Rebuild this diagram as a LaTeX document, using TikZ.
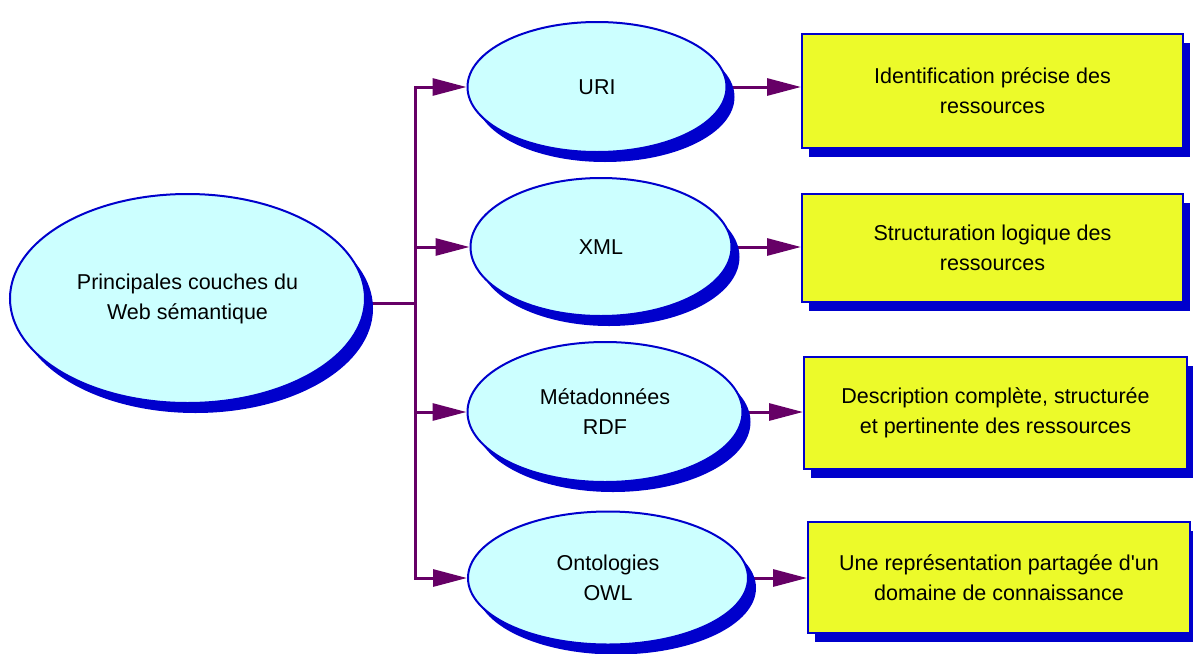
\documentclass[tikz,border=0pt]{standalone}
\usepackage{fontspec}
\setmainfont{Liberation Sans}
\usetikzlibrary{shapes.geometric,shadows,arrows.meta}
\definecolor{cyanfill}{RGB}{204,255,255}
\definecolor{edgeblue}{RGB}{0,0,204}
\definecolor{boxyellow}{RGB}{236,250,42}
\definecolor{linkpurple}{RGB}{102,0,102}
\pgfdeclarelayer{background}
\pgfsetlayers{background,main}
\tikzset{
  layernode/.style={ellipse, draw=edgeblue, line width=2pt, fill=cyanfill, inner sep=0pt,
    align=center, font=\fontsize{21.5}{30}\selectfont,
    drop shadow={fill=edgeblue, opacity=1, shadow xshift=8pt, shadow yshift=-10pt}},
  infobox/.style={rectangle, draw=edgeblue, line width=2pt, fill=boxyellow, inner sep=0pt,
    align=center, font=\fontsize{21.5}{30}\selectfont,
    drop shadow={fill=edgeblue, opacity=1, shadow xshift=7pt, shadow yshift=-9pt}},
  link/.style={draw=linkpurple, line width=3pt, line cap=rect},
  arr/.style={link, -{Triangle[length=34pt,width=17pt]}}
}
\begin{document}
\begin{tikzpicture}[x=1pt,y=-1pt]
\useasboundingbox (0,0) rectangle (1193,653);

\node[layernode, minimum width=355pt, minimum height=209pt] (main) at (187.5,298.5)
  {Principales couches du\\Web sémantique};

\node[layernode, minimum width=259pt, minimum height=130pt] (uri) at (597,87) {URI};
\node[layernode, minimum width=261pt, minimum height=138pt] (xml) at (601,247) {XML};
\node[layernode, minimum width=275pt, minimum height=140pt] (rdf) at (605,412) {Métadonnées\\RDF};
\node[layernode, minimum width=280pt, minimum height=133pt] (owl) at (608,578) {Ontologies\\OWL};

\node[infobox, minimum width=381pt, minimum height=114pt] (b1) at (992.5,91)
  {Identification précise des\\ressources};
\node[infobox, minimum width=381pt, minimum height=108pt] (b2) at (992.5,248)
  {Structuration logique des\\ressources};
\node[infobox, minimum width=383pt, minimum height=112pt] (b3) at (995.5,413)
  {Description complète, structurée\\et pertinente des ressources};
\node[infobox, minimum width=382pt, minimum height=111pt] (b4) at (999,577.5)
  {Une représentation partagée d\textquotesingle un\\domaine de connaissance};

\coordinate (bus) at (415,303);

\begin{pgfonlayer}{background}
\draw[link] ([yshift=-4.5pt]main.east) -- (bus);
\draw[link] (bus |- uri) -- (bus |- owl);
\draw[arr] (bus |- uri) -- (uri.west);
\draw[arr] (bus |- xml) -- (xml.west);
\draw[arr] (bus |- rdf) -- (rdf.west);
\draw[arr] (bus |- owl) -- (owl.west);
\draw[arr] (uri.east) -- (uri.east -| b1.west);
\draw[arr] (xml.east) -- (xml.east -| b2.west);
\draw[arr] (rdf.east) -- (rdf.east -| b3.west);
\draw[arr] (owl.east) -- (owl.east -| b4.west);
\end{pgfonlayer}
\end{tikzpicture}
\end{document}
